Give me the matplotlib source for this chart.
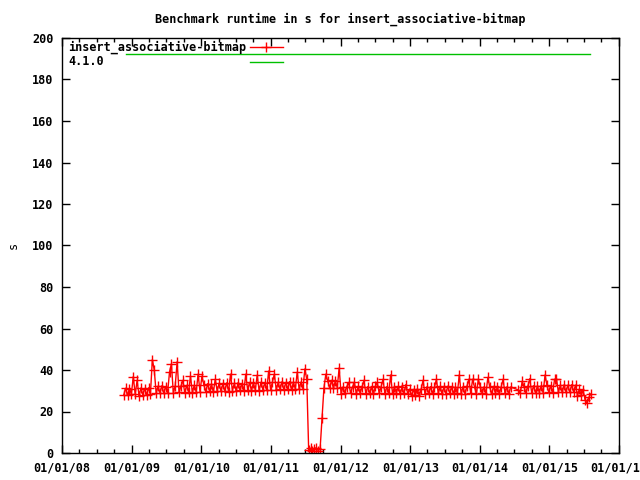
import numpy as np
import pandas as pd
import matplotlib
matplotlib.use("Agg")
import matplotlib.pyplot as plt
import matplotlib.dates as mdates

# runtime samples, one every 10 days starting 2008-11-20
start_date = "2008-11-20"
step = "10D"
nan = np.nan

runtime_2009 = [28.0, 31.2, 27.8, 31.0, 28.4, 36.8, 28.2, 35.0, 27.6, 31.3,
                28.1, 31.0, 27.9, 31.4, 28.6, 45.0, 40.0, 28.8, 32.2, 29.0,
                32.4, 28.7, 32.0, 29.1, 39.0, 43.0, 28.9, 32.5, 44.0, 29.2,
                32.3, 35.0, 29.0, 32.6, 29.3, 37.0, 29.1, 32.8, 29.4, 38.0]
runtime_2010 = [29.6, 37.0, 33.0, 29.5, 33.4, 29.8, 33.2, 29.4, 35.5, 29.9,
                33.6, 29.7, 33.3, 30.0, 33.8, 29.6, 38.0, 30.1, 33.5, 29.8,
                33.9, 30.2, 33.4, 29.9, 38.0, 30.3, 34.0, 30.0, 33.7, 30.4,
                37.5, 30.1, 34.1, 30.5, 33.8, 30.2, 39.5, 30.6, 34.2, 38.0]
runtime_2011 = [30.4, 34.0, 30.7, 34.3, 30.5, 33.9, 30.8, 34.4, 30.6, 34.1,
                30.9, 39.0, 30.7, 34.2, 31.0, 40.5, 35.5, 1.5, 2.3, 0.9,
                1.8, 2.6, 1.2, 2.0, 17.0, 31.2, 38.0, 34.6, 31.4, 35.0,
                31.1, 34.8, 31.5, 41.0, 28.6, 31.8, 28.9, 32.0, 34.0, 28.7]
runtime_2012 = [31.9, 34.0, 28.5, 32.1, 28.8, 31.8, 35.0, 28.6, 32.0, 28.9,
                31.7, 28.4, 32.2, 34.0, 28.7, 31.9, 35.5, 28.5, 32.0, 28.8,
                37.6, 28.6, 31.8, 28.9, 32.1, 28.4, 31.6, 28.7, 33.0, 28.3,
                30.8, 27.6, 30.6, 27.8, 30.9, 27.5, 30.7, 35.0, 28.6, 31.9]
runtime_2013 = [28.7, 32.0, 28.5, 31.8, 35.5, 28.8, 32.1, 28.4, 31.9, 28.6,
                32.2, 28.9, 31.7, 28.5, 32.0, 28.7, 37.6, 28.6, 31.9, 28.4,
                32.1, 35.5, 28.8, 35.5, 31.8, 28.5, 35.5, 32.0, 28.7, 31.9,
                28.6, 36.4, 31.8, 28.5, 32.1, 28.8, 31.9, 28.4, 32.0, 35.5]
runtime_2014 = [28.7, 31.9, 28.6, 31.8, nan, nan, nan, 30.4, 28.7, 34.5,
                32.0, 28.8, 32.2, 35.8, 28.9, 32.4, 29.0, 32.3, 29.1, 32.5,
                29.0, 37.6, 32.6, 29.2, 32.4, 29.1, 35.5, 35.8, 29.3, 32.7,
                29.2, 32.8, 29.4, 32.6, 29.3, 32.9, 29.5, 32.7, 27.6, 30.8,
                27.8, 30.2, 25.6, 24.0, 26.8, 28.5]

release_dates = ["2008-12-01", "2015-08-01"]
release_level = [192.5, 192.5]

series_name = 'insert_associative-bitmap'
release_name = '4.1.0'

runtime = np.array(runtime_2009 + runtime_2010 + runtime_2011 +
                   runtime_2012 + runtime_2013 + runtime_2014)
dates = pd.date_range(start_date, periods=len(runtime), freq=step)
keep = ~np.isnan(runtime)

plt.rcParams['font.family'] = 'DejaVu Sans Mono'
plt.rcParams['font.weight'] = 'bold'
plt.rcParams['font.size'] = 8.5

red = '#ff0000'
green = '#00c000'

fig = plt.figure(figsize=(6.4, 4.8), dpi=100)
ax = fig.add_axes([62/640, 1-453/480, (619-62)/640, (453-38)/480])

ax.plot(dates[keep], runtime[keep], color=red, lw=1, marker='+', ms=6.5, mew=1)
ax.plot(pd.to_datetime(release_dates), release_level, color=green, lw=1)

ax.set_xlim(pd.Timestamp("2008-01-01"), pd.Timestamp("2016-01-01"))
ax.set_ylim(0, 200)
ax.set_yticks(range(0, 201, 20))
ax.xaxis.set_major_locator(mdates.YearLocator())
ax.xaxis.set_minor_locator(mdates.MonthLocator(bymonth=[4, 7, 10]))
ax.xaxis.set_major_formatter(mdates.DateFormatter('%m/%d/%y'))
ax.tick_params(which='both', direction='in', top=True, right=True, width=1)
ax.tick_params(which='major', length=6, pad=6)
ax.tick_params(which='minor', length=3)
for s in ax.spines.values():
    s.set_linewidth(1)

ax.set_title('Benchmark runtime in s for ' + series_name, fontsize=8.5,
             fontweight='bold', pad=11)
ax.set_ylabel('s')
ax.yaxis.set_label_coords(-0.075, 0.5)

# gnuplot style key: text left, sample to the right
tr = ax.transAxes
ax.text(0.0108, 0.978, series_name, transform=tr, va='center', ha='left')
ax.text(0.0108, 0.943, release_name, transform=tr, va='center', ha='left')
ax.plot([0.3375, 0.397], [0.978, 0.978], color=red, lw=1, transform=tr)
ax.plot([0.367], [0.978], color=red, marker='+', ms=6.5, mew=1, transform=tr)
ax.plot([0.3375, 0.397], [0.943, 0.943], color=green, lw=1, transform=tr)

fig.savefig('out.png', dpi=100)
